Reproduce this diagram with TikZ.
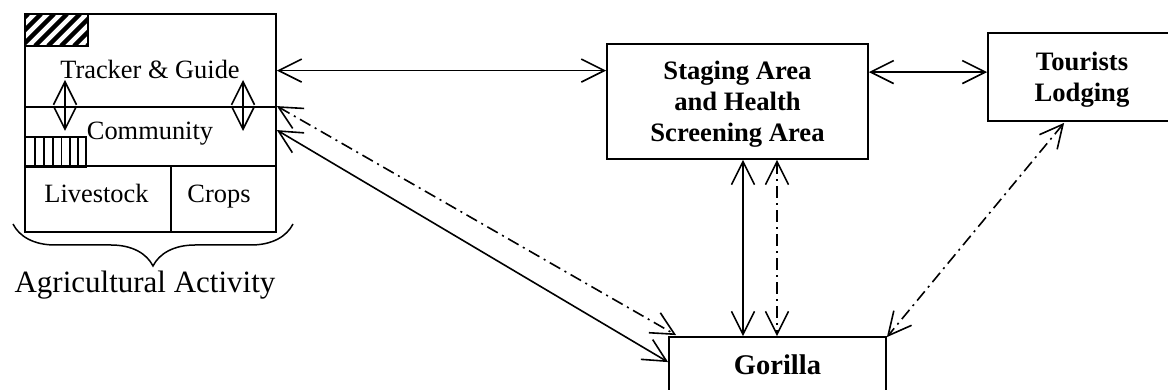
\documentclass[tikz,border=0pt]{standalone}
\usepackage{fontspec}
\setmainfont{Liberation Serif}
\usetikzlibrary{arrows.meta,calc,decorations.pathreplacing}

\begin{document}
\begin{tikzpicture}[x=1pt,y=-1pt,
  box/.style={draw,line width=1.8pt,inner sep=0pt},
  lbl/.style={font=\fontsize{26.4}{30.5}\selectfont,inner sep=0pt,anchor=base},
  boldbox/.style={box,font=\fontsize{26.6}{31}\selectfont\bfseries,align=center,text depth=0pt},
  barb/.tip={Straight Barb[length=23pt,width=23pt,line width=1.6pt]},
  conn/.style={line width=1.6pt,line join=round,barb-barb},
  dashdot/.style={dash pattern=on 12pt off 5pt on 2pt off 5pt}]

\useasboundingbox (0,0) rectangle (1168,390);
\clip (0,0) rectangle (1168,390);

% ---- village block: tracker & guide, community, livestock, crops ----
\node[box,minimum width=251pt,minimum height=218pt] (agri) at (150.5,123) {};
\draw[line width=1.8pt] (agri.north west) ++(0,94) coordinate (d1l) -- (d1l -| agri.east);
\draw[line width=1.8pt] (agri.north west) ++(0,153) coordinate (d2l) -- (d2l -| agri.east);
\draw[line width=1.8pt] (d2l) ++(147,0) coordinate (d3t) -- (d3t |- agri.south);

\node[lbl] (tracker)   at (150,79)  {Tracker \& Guide};
\node[lbl] (community) at (150,140) {Community};
\node[lbl] (livestock) at (96.5,203) {Livestock};
\node[lbl] (crops)     at (219,203) {Crops};

% diagonal hatched tag
\begin{scope}
  \clip (25,14) rectangle (88,46);
  \foreach \x in {-30,-17,...,90}
    \draw[line width=4.5pt] (\x,46) -- ++(32,-32);
\end{scope}
\node[box,minimum width=63pt,minimum height=32pt] (hatch) at (56.5,30) {};

% vertically striped tag
\node[box,line width=1.3pt,minimum width=61pt,minimum height=30pt] (stripes) at (55.5,152) {};
\foreach \x in {35,44,53,61.5,70,78}
  \draw[line width=1.3pt] (stripes.north west -| \x,0) -- (stripes.south west -| \x,0);

% exchanges between tracker/guide and community
\draw[conn] (65,80) coordinate (v1a) -- (65,131) coordinate (v1b);
\draw[conn] (243,80) coordinate (v2a) -- (243,131) coordinate (v2b);

% brace and caption
\draw[line width=1.5pt,decorate,decoration={brace,amplitude=42pt,aspect=0.5}]
  (293,224) coordinate (brR) -- (13,224) coordinate (brL);
\node[lbl,font=\fontsize{31}{36}\selectfont] (agricap) at (145,292) {Agricultural Activity};

% ---- other places ----
\node[boldbox,minimum width=261pt,minimum height=115pt] (staging) at (737.5,101.5)
  {Staging Area\\and Health\\Screening Area};
\node[boldbox,minimum width=188pt,minimum height=88pt] (lodging) at (1082,77)
  {Tourists\\Lodging};
\node[box,font=\fontsize{28.5}{32}\selectfont\bfseries,minimum width=217pt,minimum height=56pt]
  (gorilla) at (777.5,365) {Gorilla};

% ---- connectors ----
\path (agri.north east) ++(0,57.5) coordinate (c1);
\draw[conn] (c1) -- (c1 -| staging.west);
\path (staging.north east) ++(0,29) coordinate (c2);
\draw[conn] (c2) -- (c2 -| lodging.west);

\path (agri.north east) ++(0,93) coordinate (c3);
\path (gorilla.north west) ++(8,-1) coordinate (c4);
\draw[conn,dashdot] (c3) -- (c4);
\path (agri.north east) ++(0,117) coordinate (c5);
\path (gorilla.north west) ++(0,26) coordinate (c6);
\draw[conn] (c5) -- (c6);

\draw[conn] (staging.south -| 743,0) -- (gorilla.north -| 743,0);
\draw[conn,dashdot] (staging.south -| 777,0) -- (gorilla.north -| 777,0);

\path (lodging.south west) ++(77,1) coordinate (c7);
\path (gorilla.north east) ++(0,1) coordinate (c8);
\draw[conn,dashdot] (c7) -- (c8);
\end{tikzpicture}
\end{document}
